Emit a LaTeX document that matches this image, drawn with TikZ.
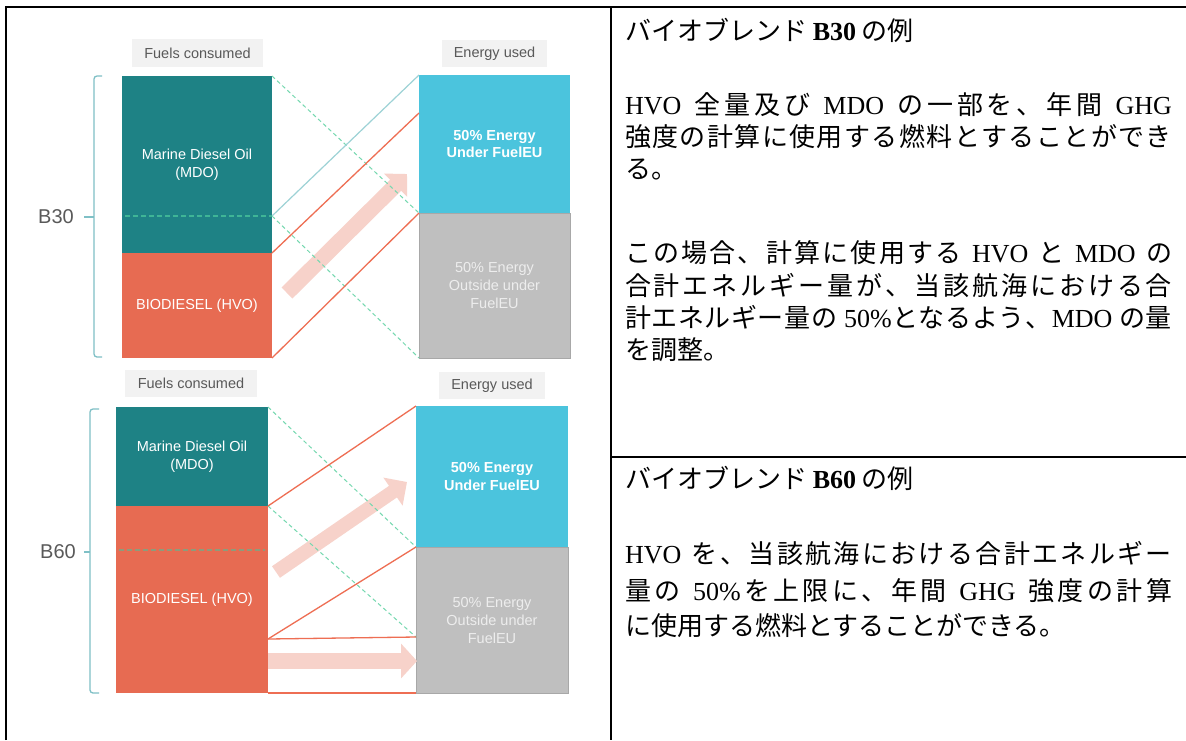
\documentclass[tikz,border=0pt]{standalone}
\usepackage{fontspec}
\setmainfont{Liberation Serif}
\newfontfamily\jp{Noto Sans CJK JP}
\newfontfamily\lat{Liberation Serif}
\newfontfamily\sansf{Liberation Sans}
\usetikzlibrary{arrows.meta}
\definecolor{mdoc}{HTML}{1E8285}
\definecolor{hvoc}{HTML}{E76B52}
\definecolor{bluec}{HTML}{4BC4DD}
\definecolor{grayc}{HTML}{BFBFBF}
\definecolor{grayb}{HTML}{A8A8A8}
\definecolor{pinkc}{HTML}{F7D2CA}
\definecolor{dashgc}{HTML}{74D8AF}
\definecolor{tealc}{HTML}{9DD2D6}
\definecolor{orc}{HTML}{EE6E53}
\definecolor{bracec}{HTML}{7FC0C6}
\definecolor{lblbg}{HTML}{F2F2F2}
\definecolor{lbltx}{HTML}{595959}
\definecolor{innerA}{HTML}{3FB596}
\definecolor{innerB}{HTML}{8E9B7B}
\definecolor{outtx}{HTML}{EDEDED}
\makeatletter
\newcommand\jline[2]{\hbox to #1{\@tfor\jtok:=#2\do{{\jtok}\hfil}\unskip}}
\makeatother
\begin{document}
\begin{tikzpicture}[x=1pt,y=-1pt,
  fuelbox/.style={inner sep=0pt, outer sep=0pt, anchor=north west, align=center,
    font=\sansf\fontsize{14.5}{18}\selectfont, text=white},
  lblbox/.style={fill=lblbg, inner sep=0pt, outer sep=0pt, anchor=north west,
    font=\sansf\fontsize{14.5}{17}\selectfont, text=lbltx},
  dashg/.style={draw=dashgc, line width=1pt, dash pattern=on 4pt off 3pt},
  tealln/.style={draw=tealc, line width=1.2pt},
  orln/.style={draw=orc, line width=1.3pt},
  innerAst/.style={draw=innerA, line width=1.2pt, dash pattern=on 5pt off 3pt},
  innerBst/.style={draw=innerB, line width=1.4pt, dash pattern=on 5pt off 3pt},
  bracel/.style={draw=bracec, line width=1.3pt, rounded corners=3pt},
  pinkarr/.style={draw=pinkc},
  blabel/.style={font=\sansf\fontsize{20}{24}\selectfont, text=lbltx, inner sep=0pt},
  tbl/.style={draw=black, line width=2.5pt},
  jtxt/.style={anchor=base west, inner sep=0pt, outer sep=0pt, font=\jp\fontsize{26}{31}\selectfont}
]
\useasboundingbox (0,0) rectangle (1186,740);
\fill[white] (0,0) rectangle (1186,740);

% ---------- top diagram (B30) ----------
\node[lblbox, minimum width=131pt, minimum height=28pt] (fcA) at (132,39) {Fuels consumed};
\node[lblbox, minimum width=105pt, minimum height=27pt] (euA) at (442,40) {Energy used};
\node[fuelbox, fill=mdoc, minimum width=150pt, minimum height=177pt] (mdoA) at (122,76) {Marine Diesel Oil\\(MDO)};
\node[fuelbox, fill=hvoc, minimum width=150pt, minimum height=105pt] (hvoA) at (122,253) {BIODIESEL (HVO)};
\node[fuelbox, fill=bluec, minimum width=151pt, minimum height=138pt, font=\sansf\bfseries\fontsize{14.5}{17.5}\selectfont] (blueA) at (419,75) {50\% Energy\\Under FuelEU};
\node[fuelbox, fill=grayc, draw=grayb, line width=1pt, minimum width=151pt, minimum height=145pt, text=outtx] (grayA) at (419,213) {50\% Energy\\Outside under\\FuelEU};

\coordinate (mA) at (272,216);
\coordinate (mAi) at (125,216);
\coordinate (oA) at (419,113);
\coordinate (tA) at (287,293);
\coordinate (hA) at (407,174);

\draw[pinkarr, line width=15.5pt, -{Triangle[width=32pt,length=16pt]}] (tA) -- (hA);

\draw[dashg] (mdoA.north east) -- (grayA.north west);
\draw[dashg] (mA) -- (grayA.south west);
\draw[tealln] (mA) -- (blueA.north west);
\draw[orln] (hvoA.north east) -- (oA);
\draw[orln] (hvoA.south east) -- (grayA.north west);
\draw[innerAst] (mAi) -- (mA);

\node[blabel] (bA) at (56,217) {B30};
\coordinate (bAt) at (84,217);
\coordinate (bAm) at (94,217);
\draw[bracel] (102,76) -- (94,76) -- (94,357) -- (102,357);
\draw[draw=bracec, line width=1.3pt] (bAt) -- (bAm);

% ---------- bottom diagram (B60) ----------
\node[lblbox, minimum width=132pt, minimum height=27pt] (fcB) at (125,370) {Fuels consumed};
\node[lblbox, minimum width=106pt, minimum height=27pt] (euB) at (439,372) {Energy used};
\node[fuelbox, fill=mdoc, minimum width=152pt, minimum height=99pt] (mdoB) at (116,407) {Marine Diesel Oil\\(MDO)};
\node[fuelbox, fill=hvoc, minimum width=152pt, minimum height=187pt] (hvoB) at (116,506) {BIODIESEL (HVO)};
\node[fuelbox, fill=bluec, minimum width=152pt, minimum height=141pt, font=\sansf\bfseries\fontsize{14.5}{17.5}\selectfont] (blueB) at (416,406) {50\% Energy\\Under FuelEU};
\node[fuelbox, fill=grayc, draw=grayb, line width=1pt, minimum width=152pt, minimum height=146pt, text=outtx] (grayB) at (416,547) {50\% Energy\\Outside under\\FuelEU};

\coordinate (hB) at (268,639);
\coordinate (gB) at (416,637);
\coordinate (iB1) at (119,550);
\coordinate (iB2) at (265,550);
\coordinate (tB) at (276,572);
\coordinate (pB) at (407,482);
\coordinate (tC) at (268,661);
\coordinate (pC) at (417,661);

\draw[pinkarr, line width=14pt, -{Triangle[width=33pt,length=17pt]}] (tB) -- (pB);
\draw[pinkarr, line width=16pt, -{Triangle[width=34pt,length=16pt]}] (tC) -- (pC);

\draw[dashg] (mdoB.north east) -- (grayB.north west);
\draw[dashg] (hvoB.north east) -- (gB);
\draw[orln] (hvoB.north east) -- (blueB.north west);
\draw[orln] (hB) -- (grayB.north west);
\draw[orln] (hB) -- (gB);
\draw[orln] (hvoB.south east) -- (grayB.south west);
\draw[innerBst] (iB1) -- (iB2);

\node[blabel] (bB) at (58,552) {B60};
\coordinate (bBt) at (84,552);
\coordinate (bBm) at (90,552);
\draw[bracel] (99,409) -- (90,409) -- (90,693) -- (99,693);
\draw[draw=bracec, line width=1.3pt] (bBt) -- (bBm);

% ---------- table frame ----------
\draw[tbl, line join=miter] (6,740) -- (6,7) -- (1186,7);
\draw[tbl] (611,7) -- (611,740);
\draw[tbl] (611,457) -- (1186,457);

% ---------- text B30 ----------
\node[jtxt] (ttlA) at (625,40) {バイオブレンド {\lat\bfseries B30} の例};
\node[jtxt] (pA1) at (625,114) {\jline{547pt}{{\lat HVO}{\ }全量及び{\ }{\lat MDO}{\ }の一部を、年間{\ }{\lat GHG}}};
\node[jtxt] (pA2) at (625,146) {\jline{547pt}{強度の計算に使用する燃料とすることができ}};
\node[jtxt] (pA3) at (625,178) {る。};
\node[jtxt] (pA4) at (625,262) {\jline{547pt}{この場合、計算に使用する{\ }{\lat HVO}{\ }と{\ }{\lat MDO}{\ }の}};
\node[jtxt] (pA5) at (625,295) {\jline{547pt}{合計エネルギー量が、当該航海における合}};
\node[jtxt] (pA6) at (625,327) {\jline{547pt}{計エネルギー量の{\ }{\lat 50\%}となるよう、{\lat MDO}{\ }の量}};
\node[jtxt] (pA7) at (625,359) {を調整。};

% ---------- text B60 ----------
\node[jtxt] (ttlB) at (625,488) {バイオブレンド {\lat\bfseries B60} の例};
\node[jtxt] (pB1) at (625,563) {\jline{547pt}{{\lat HVO}{\ }を、当該航海における合計エネルギー}};
\node[jtxt] (pB2) at (625,600) {\jline{547pt}{量の{\ }{\lat 50\%}を上限に、年間{\ }{\lat GHG}{\ }強度の計算}};
\node[jtxt] (pB3) at (625,635) {に使用する燃料とすることができる。};
\end{tikzpicture}
\end{document}
